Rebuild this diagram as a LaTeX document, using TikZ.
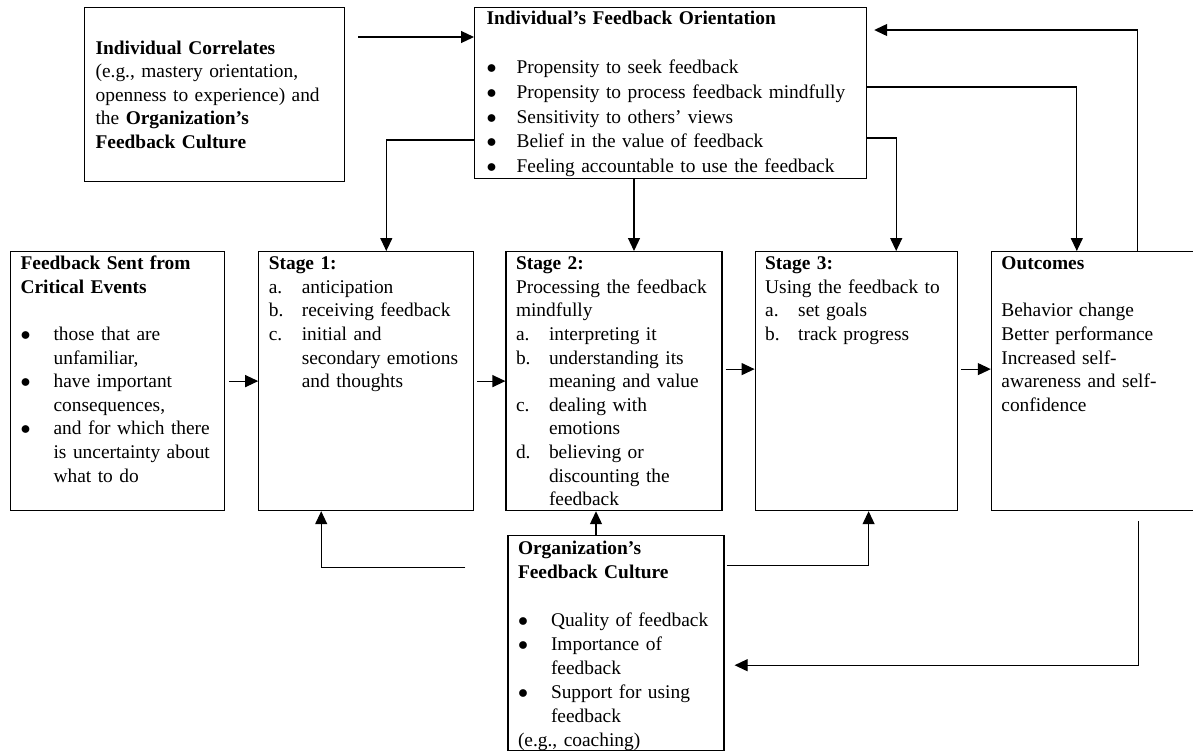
\documentclass[tikz,border=0pt]{standalone}
\usepackage{fontspec}
\setmainfont{Liberation Serif}
\usetikzlibrary{arrows.meta,positioning}
\hyphenpenalty=10000
\newcommand{\hitem}[3][16.5pt]{\par\hangindent=#1\hangafter=1\noindent\makebox[#1][l]{#2}#3\par}
\newcommand{\blankline}{\par\vspace{\baselineskip}}
\newcommand{\dotmark}{$\bullet$}
\tikzset{
  >={Triangle[length=6.5pt,width=6pt]},
  plainbox/.style={draw,line width=0.6pt,anchor=north west,align=left,
                   font=\fontsize{9.7}{11.8}\selectfont},
  panel/.style={plainbox,inner xsep=5pt,inner ysep=3pt,text height=6pt},
  arrow/.style={->,line width=0.6pt}
}

\begin{document}
\begin{tikzpicture}[x=0.5pt,y=-0.5pt]
  \useasboundingbox (0,0) rectangle (1193,751);
  \fill[white] (0,0) rectangle (1193,751);

  \node[plainbox,inner xsep=5.5pt,text width=119pt,minimum height=87pt] (ic) at (84,7)
    {\textbf{Individual Correlates}\\ (e.g., mastery orientation,\\ openness to experience) and\\
     the \textbf{Organization’s}\\ \textbf{Feedback Culture}};
  \node[panel,inner xsep=6pt,text width=184pt,text height=5.5pt,text depth=74pt,
        font=\fontsize{9.7}{12.3}\selectfont] (ifo) at (474,7)
    {\textbf{Individual’s Feedback Orientation}\blankline
     \hitem[15pt]{\dotmark}{Propensity to seek feedback}
     \hitem[15pt]{\dotmark}{Propensity to process feedback mindfully}
     \hitem[15pt]{\dotmark}{Sensitivity to others’ views}
     \hitem[15pt]{\dotmark}{Belief in the value of feedback}
     \hitem[15pt]{\dotmark}{Feeling accountable to use the feedback}};

  \node[panel,text width=97pt,text depth=117.5pt] (fs) at (10,251)
    {\textbf{Feedback Sent from\newline Critical Events}\blankline
     \hitem{\dotmark}{those that are\newline unfamiliar,}
     \hitem{\dotmark}{have important\newline consequences,}
     \hitem{\dotmark}{and for which there\newline is uncertainty about\newline what to do}};
  \node[panel,text width=97.5pt,text depth=117.5pt,right=16.5pt of fs.north east,anchor=north west] (s1)
    {\textbf{Stage 1:}
     \hitem{a.}{anticipation}
     \hitem{b.}{receiving feedback}
     \hitem{c.}{initial and\newline secondary emotions\newline and thoughts}};
  \node[panel,text width=98pt,text depth=117.5pt,right=15.5pt of s1.north east,anchor=north west] (s2)
    {\textbf{Stage 2:}\newline Processing the feedback\newline mindfully
     \hitem{a.}{interpreting it}
     \hitem{b.}{understanding its\newline meaning and value}
     \hitem{c.}{dealing with\newline emotions}
     \hitem{d.}{believing or\newline discounting the\newline feedback}};
  \node[panel,text width=91pt,text depth=117.5pt,right=16pt of s2.north east,anchor=north west] (s3)
    {\textbf{Stage 3:}\newline Using the feedback to
     \hitem{a.}{set goals}
     \hitem{b.}{track progress}};
  \node[panel,text width=100pt,text depth=117.5pt,right=16.5pt of s3.north east,anchor=north west] (out)
    {\textbf{Outcomes}\blankline
     Behavior change\newline Better performance\newline Increased self-\newline
     awareness and self-\newline confidence};

  \node[panel,text width=98pt,text height=6.5pt,text depth=95pt,
        font=\fontsize{9.7}{12}\selectfont,
        below=12pt of s2.south west,anchor=north west,xshift=1pt] (ofc)
    {\textbf{Organization’s\newline Feedback Culture}\blankline
     \hitem{\dotmark}{Quality of feedback}
     \hitem{\dotmark}{Importance of\newline feedback}
     \hitem{\dotmark}{Support for using\newline feedback}
     (e.g., coaching)};

  \coordinate (s2in) at ([xshift=10pt]s2.north);
  \coordinate (s2up) at ([xshift=-9pt]s2.south);

  \draw[arrow] ([shift={(6.5pt,-15pt)}]ic.north east) -- ([yshift=-15pt]ifo.north west);
  \draw[arrow] ([yshift=-66.5pt]ifo.north west) -| ([xshift=10pt]s1.north);
  \draw[arrow] (s2in |- ifo.south) -- (s2in);
  \draw[arrow] ([yshift=-65.5pt]ifo.north east) -| ([xshift=20pt]s3.north);
  \draw[arrow] ([yshift=-40pt]ifo.north east) -| ([xshift=43pt]out.north west);
  \draw[arrow] ([xshift=73.5pt]out.north west) |- ([shift={(3.5pt,-11.5pt)}]ifo.north east);

  \draw[arrow] ([xshift=2pt]fs.east) -- (s1.west);
  \draw[arrow] ([xshift=1.5pt]s1.east) -- (s2.west);
  \draw[arrow] ([shift={(1.5pt,6pt)}]s2.east) -- ([yshift=6pt]s3.west);
  \draw[arrow] ([shift={(1.5pt,6pt)}]s3.east) -- ([yshift=6pt]out.west);

  \draw[arrow] ([shift={(-21pt,-16pt)}]ofc.north west) -| ([xshift=31.5pt]s1.south west);
  \draw[arrow] (s2up |- ofc.north) -- (s2up);
  \draw[arrow] ([shift={(1pt,-15pt)}]ofc.north east) -| ([xshift=57pt]s3.south west);
  \draw[arrow] ([shift={(74pt,-5pt)}]out.south west) |- ([shift={(5pt,-65pt)}]ofc.north east);
\end{tikzpicture}
\end{document}
